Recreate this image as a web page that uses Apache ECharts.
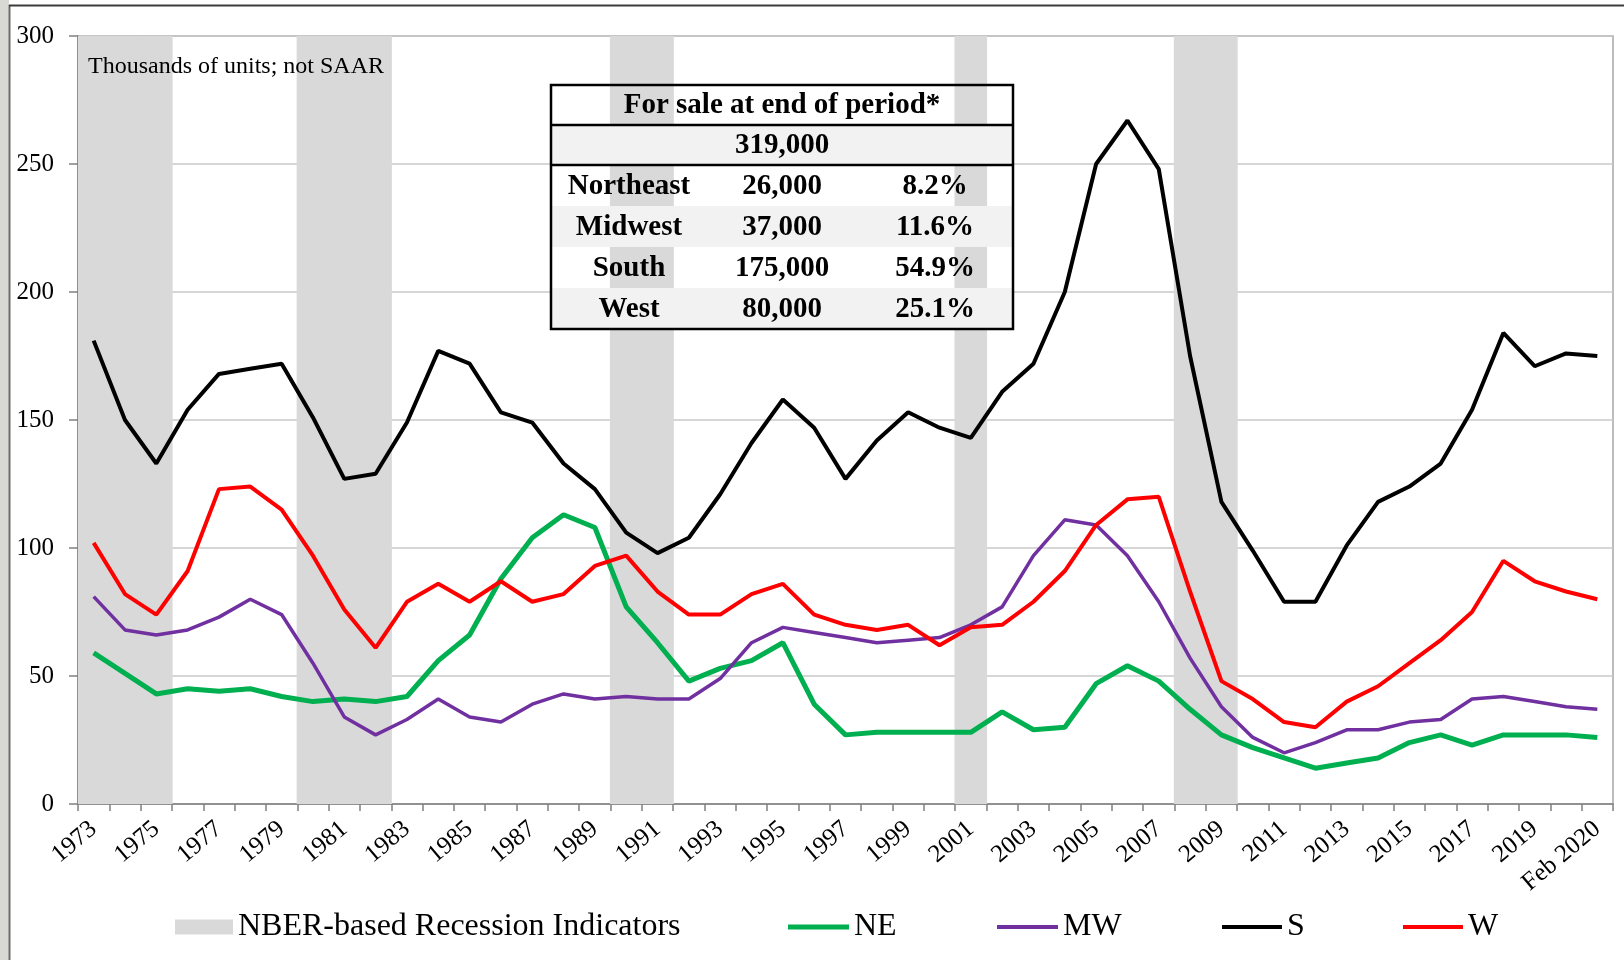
<!DOCTYPE html>
<html>
<head>
<meta charset="utf-8">
<title>New homes for sale by region</title>
<script src="https://cdn.jsdelivr.net/npm/echarts@6/dist/echarts.min.js"></script>
<style>
  html, body { margin: 0; padding: 0; background: #ffffff; }
  #chart { width: 1624px; height: 960px; }
</style>
</head>
<body>
<div id="chart"></div>
<script>
// Year-end inventory of new single-family homes for sale, thousands of units
const categories = [
  '1973','1974','1975','1976','1977','1978','1979','1980','1981','1982',
  '1983','1984','1985','1986','1987','1988','1989','1990','1991','1992',
  '1993','1994','1995','1996','1997','1998','1999','2000','2001','2002',
  '2003','2004','2005','2006','2007','2008','2009','2010','2011','2012',
  '2013','2014','2015','2016','2017','2018','2019','Jan 2020','Feb 2020'
];

const northeast = [
  59, 51, 43, 45, 44, 45, 42, 40, 41, 40,
  42, 56, 66, 88, 104, 113, 108, 77, 63, 48,
  53, 56, 63, 39, 27, 28, 28, 28, 28, 36,
  29, 30, 47, 54, 48, 37, 27, 22, 18, 14,
  16, 18, 24, 27, 23, 27, 27, 27, 26
];
const midwest = [
  81, 68, 66, 68, 73, 80, 74, 55, 34, 27,
  33, 41, 34, 32, 39, 43, 41, 42, 41, 41,
  49, 63, 69, 67, 65, 63, 64, 65, 70, 77,
  97, 111, 109, 97, 79, 57, 38, 26, 20, 24,
  29, 29, 32, 33, 41, 42, 40, 38, 37
];
const south = [
  181, 150, 133, 154, 168, 170, 172, 151, 127, 129,
  149, 177, 172, 153, 149, 133, 123, 106, 98, 104,
  121, 141, 158, 147, 127, 142, 153, 147, 143, 161,
  172, 200, 250, 267, 248, 175, 118, 99, 79, 79,
  101, 118, 124, 133, 154, 184, 171, 176, 175
];
const west = [
  102, 82, 74, 91, 123, 124, 115, 97, 76, 61,
  79, 86, 79, 87, 79, 82, 93, 97, 83, 74,
  74, 82, 86, 74, 70, 68, 70, 62, 69, 70,
  79, 91, 109, 119, 120, 83, 48, 41, 32, 30,
  40, 46, 55, 64, 75, 95, 87, 83, 80
];

// NBER recession years, shaded full height
const recessionYears = ['1973','1974','1975','1980','1981','1982','1990','1991','2001','2008','2009'];
const recessionHeight = 300;

// Summary table (Feb 2020)
const tableTitle = 'For sale at end of period*';
const tableTotal = '319,000';
const tableRegions = ['Northeast', 'Midwest', 'South', 'West'];
const tableCounts = ['26,000', '37,000', '175,000', '80,000'];
const tableShares = ['8.2%', '11.6%', '54.9%', '25.1%'];

const yTicks = { min: 0, max: 300, interval: 50 };

const SERIF = '"Liberation Serif", "Times New Roman", serif';
const recessionData = categories.map(c => recessionYears.includes(c) ? recessionHeight : '-');

// Table geometry
const tbl = { left: 551, right: 1013, rows: [85, 125, 165, 206, 247, 288, 329], cols: [629, 782, 935] };
const tableGraphics = [];
const shadedRows = [1, 3, 5];
shadedRows.forEach(r => {
  tableGraphics.push({
    type: 'rect', silent: true,
    shape: { x: tbl.left, y: tbl.rows[r], width: tbl.right - tbl.left, height: tbl.rows[r + 1] - tbl.rows[r] },
    style: { fill: '#F2F2F2' }, z: 10
  });
});
tableGraphics.push({
  type: 'rect', silent: true,
  shape: { x: tbl.left, y: tbl.rows[0], width: tbl.right - tbl.left, height: tbl.rows[6] - tbl.rows[0] },
  style: { fill: 'none', stroke: '#000', lineWidth: 2.5 }, z: 12
});
[1, 2].forEach(r => {
  tableGraphics.push({
    type: 'line', silent: true,
    shape: { x1: tbl.left, y1: tbl.rows[r], x2: tbl.right, y2: tbl.rows[r] },
    style: { stroke: '#000', lineWidth: 2.5 }, z: 12
  });
});
const cellFont = 'bold 29px ' + SERIF;
function cell(text, x, r) {
  return {
    type: 'text', silent: true, z: 13,
    x: x, y: (tbl.rows[r] + tbl.rows[r + 1]) / 2 + 1,
    style: { text: text, font: cellFont, fill: '#000', align: 'center', verticalAlign: 'middle' }
  };
}
tableGraphics.push(cell(tableTitle, tbl.cols[1], 0));
tableGraphics.push(cell(tableTotal, tbl.cols[1], 1));
tableRegions.forEach((name, i) => {
  tableGraphics.push(cell(name, tbl.cols[0], i + 2));
  tableGraphics.push(cell(tableCounts[i], tbl.cols[1], i + 2));
  tableGraphics.push(cell(tableShares[i], tbl.cols[2], i + 2));
});

// Slide frame around the chart
const frameGraphics = [
  { type: 'rect', silent: true, shape: { x: 0, y: 0, width: 9, height: 960 }, style: { fill: '#D8D8D5' }, z: 1 },
  { type: 'line', silent: true, shape: { x1: 9.5, y1: 5, x2: 9.5, y2: 960 }, style: { stroke: '#6E6E6E', lineWidth: 2 }, z: 2 },
  { type: 'line', silent: true, shape: { x1: 9, y1: 5.5, x2: 1624, y2: 5.5 }, style: { stroke: '#3C3C3C', lineWidth: 2 }, z: 2 },
  { type: 'text', silent: true, z: 5, x: 88, y: 67,
    style: { text: 'Thousands of units; not SAAR', font: '24px ' + SERIF, fill: '#000', align: 'left', verticalAlign: 'middle' } }
];

function legendAt(name, left, icon, w, h) {
  return {
    data: [{ name: name, icon: icon }],
    left: left, top: 906,
    itemWidth: w, itemHeight: h,
    selectedMode: false,
    textStyle: { fontFamily: SERIF, fontSize: 32, color: '#000', padding: [0, 0, 0, 0] }
  };
}

const chart = echarts.init(document.getElementById('chart'), null, { renderer: 'canvas' });
chart.setOption({
  backgroundColor: '#ffffff',
  animation: false,
  grid: { left: 78, right: 11, top: 36, bottom: 156, show: true, borderColor: '#A6A6A6', borderWidth: 1.5, backgroundColor: 'transparent' },
  legend: [
    legendAt('NBER-based Recession Indicators', 170, 'rect', 58, 15),
    legendAt('NE', 783, 'rect', 61, 5),
    legendAt('MW', 992, 'rect', 61, 4),
    legendAt('S', 1217, 'rect', 60, 4),
    legendAt('W', 1398, 'rect', 60, 4)
  ],
  xAxis: {
    type: 'category',
    data: categories,
    boundaryGap: true,
    axisLine: { show: true, lineStyle: { color: '#808080', width: 1.5 } },
    axisTick: { show: true, interval: 0, length: 7, lineStyle: { color: '#808080', width: 1.5 } },
    axisLabel: {
      interval: 1, rotate: 40, margin: 22,
      fontFamily: SERIF, fontSize: 25, color: '#000'
    },
    splitLine: { show: false }
  },
  yAxis: {
    type: 'value',
    min: yTicks.min, max: yTicks.max, interval: yTicks.interval,
    axisLine: { show: true, lineStyle: { color: '#808080', width: 1.5 } },
    axisTick: { show: true, length: 9, lineStyle: { color: '#808080', width: 1.5 } },
    axisLabel: { margin: 24, fontFamily: SERIF, fontSize: 25, color: '#000' },
    splitLine: { show: true, lineStyle: { color: '#C8C8C8', width: 1.5 } }
  },
  series: [
    {
      name: 'NBER-based Recession Indicators', type: 'bar',
      data: recessionData, barWidth: '104%', barCategoryGap: '0%',
      itemStyle: { color: '#D9D9D9' }, z: 1, silent: true
    },
    { name: 'NE', type: 'line', data: northeast, symbol: 'none', color: '#00B050',
      lineStyle: { width: 5, color: '#00B050' }, z: 3 },
    { name: 'MW', type: 'line', data: midwest, symbol: 'none', color: '#7030A0',
      lineStyle: { width: 3.5, color: '#7030A0' }, z: 3 },
    { name: 'S', type: 'line', data: south, symbol: 'none', color: '#000000',
      lineStyle: { width: 4, color: '#000000' }, z: 3 },
    { name: 'W', type: 'line', data: west, symbol: 'none', color: '#FF0000',
      lineStyle: { width: 4, color: '#FF0000' }, z: 3 }
  ],
  graphic: frameGraphics.concat(tableGraphics)
});
</script>
</body>
</html>
